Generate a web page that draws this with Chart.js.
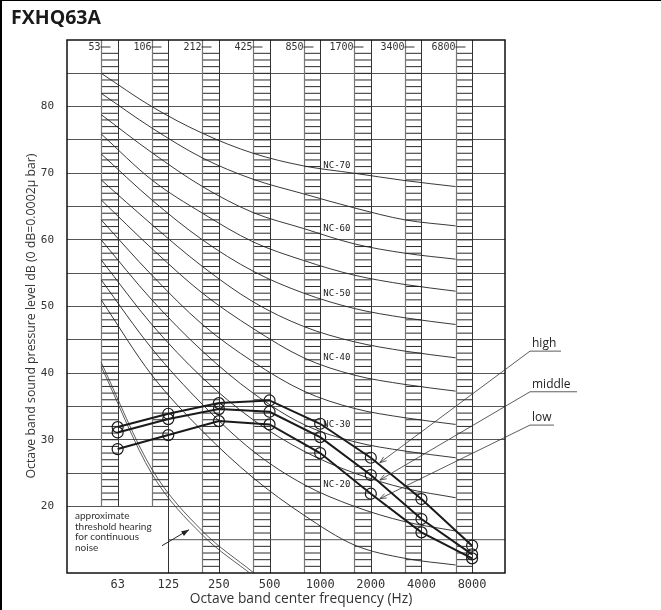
<!DOCTYPE html>
<html>
<head>
<meta charset="utf-8">
<script src="https://cdn.jsdelivr.net/npm/chart.js@4.4.1/dist/chart.umd.min.js"></script>
<style>
  html, body { margin: 0; padding: 0; background: #fff; }
  #wrap { width: 661px; height: 610px; }
</style>
</head>
<body>
<div id="wrap"><canvas id="nc" width="661" height="610"></canvas></div>
<script>
const freqLabels = ["63", "125", "250", "500", "1000", "2000", "4000", "8000"];
const bandLabels = ["53", "106", "212", "425", "850", "1700", "3400", "6800"];

// measured sound pressure levels (dB) per fan speed
const highLevel   = [31.9, 33.9, 35.5, 35.9, 32.4, 27.3, 21.1, 14.1];
const middleLevel = [31.1, 33.1, 34.6, 34.2, 30.4, 24.7, 18.1, 12.8];
const lowLevel    = [28.6, 30.7, 32.8, 32.3, 28.0, 21.9, 16.1, 12.2];

// NC curves, read at the left edge of each band
const ncNames = ["NC-70", "NC-65", "NC-60", "NC-55", "NC-50", "NC-45", "NC-40", "NC-35", "NC-30", "NC-25", "NC-20", "NC-15"];
const nc70 = [85, 80, 76, 73, 71.1, 70, 68.9, 68];
const nc65 = [82, 76.8, 72.3, 69.1, 66.9, 64.8, 63, 62.1];
const nc60 = [78.8, 73.1, 68, 64.1, 61.7, 59.4, 58, 57.1];
const nc55 = [75.9, 69, 64, 59.7, 56.9, 54.7, 53.3, 52.3];
const nc50 = [72.9, 66, 60, 55.3, 52, 49.7, 48.3, 47.3];
const nc45 = [69, 62.3, 56, 50.7, 47, 44.7, 43.3, 42.3];
const nc40 = [66, 58.7, 52, 46.7, 42.3, 39.7, 38.3, 37.3];
const nc35 = [63, 54.7, 47.3, 41.7, 37.3, 34.7, 33.3, 32.3];
const nc30 = [60, 51, 43.3, 37, 32.3, 29.7, 28.3, 27.3];
const nc25 = [57, 47.3, 39.3, 33, 28.3, 25, 22.7, 21.3];
const nc20 = [54, 43.7, 35.3, 28.3, 23.3, 20, 17.7, 16.3];
const nc15 = [51, 39.7, 31.3, 24.3, 18.7, 14.2, 12.2, 11.2];
const ncCurves = [nc70, nc65, nc60, nc55, nc50, nc45, nc40, nc35, nc30, nc25, nc20, nc15];

// approximate threshold of hearing (double line)
const thresholdOuter = [41.6, 25.6, 16.3, 10.1];
const thresholdInner = [41.0, 24.9, 15.7, 9.6];

const BAND_W = 0.325;   // ladder band width in octave units
const INK = "#1a1a1a";

Chart.defaults.font.family = "'Open Sans', sans-serif";

function seg(ctx, x1, y1, x2, y2) {
  ctx.beginPath();
  ctx.moveTo(x1, y1);
  ctx.lineTo(x2, y2);
  ctx.stroke();
}

function arrowHead(ctx, x1, y1, x2, y2, size, filled) {
  const a = Math.atan2(y2 - y1, x2 - x1);
  ctx.beginPath();
  ctx.moveTo(x2 - size * Math.cos(a - 0.35), y2 - size * Math.sin(a - 0.35));
  ctx.lineTo(x2, y2);
  ctx.lineTo(x2 - size * Math.cos(a + 0.35), y2 - size * Math.sin(a + 0.35));
  if (filled) { ctx.closePath(); ctx.fill(); } else ctx.stroke();
}

const decor = {
  id: "decor",
  beforeDatasetsDraw(chart) {
    const { ctx, chartArea: a, scales: { x, y } } = chart;
    ctx.save();

    // ladder bands
    bandLabels.forEach((lab, i) => {
      const xl = Math.round(x.getPixelForValue(i - BAND_W)) + 0.5;
      const xr = Math.round(x.getPixelForValue(i)) + 0.5;
      const bot = i < 2 ? y.getPixelForValue(20) : a.bottom;
      ctx.strokeStyle = "#2a2a2a";
      ctx.lineWidth = 1;
      for (let db = 88; db >= 11; db--) {
        const py = y.getPixelForValue(db);
        if (py >= bot - 1) break;
        seg(ctx, xl, py, xr, py);
      }
      ctx.strokeStyle = "#777";
      ctx.lineWidth = 1.2;
      seg(ctx, xl, a.top, xl, bot);
      ctx.strokeStyle = "#333";
      ctx.lineWidth = 1;
      seg(ctx, xr, a.top, xr, bot);

      ctx.fillStyle = "#333";
      ctx.font = "10px 'DejaVu Sans Mono'";
      ctx.textAlign = "right";
      ctx.textBaseline = "middle";
      ctx.fillText(lab, xl - 1, a.top + 7);
      ctx.strokeStyle = "#333";
      seg(ctx, xl - 1, a.top + 7, xl + 9, a.top + 7);
    });

    // note box edge and partial 15 dB line
    const xb = Math.round(x.getPixelForValue(1)) + 0.5;
    ctx.strokeStyle = "#333";
    ctx.lineWidth = 1;
    seg(ctx, xb, y.getPixelForValue(20), xb, a.bottom);
    ctx.strokeStyle = "#555";
    seg(ctx, xb, y.getPixelForValue(15), a.right, y.getPixelForValue(15));

    // frame
    ctx.strokeStyle = "#111";
    ctx.lineWidth = 1.5;
    ctx.strokeRect(a.left, a.top, a.right - a.left, a.bottom - a.top);
    ctx.restore();
  },
  afterDatasetsDraw(chart) {
    const { ctx, chartArea: a, scales: { x, y } } = chart;
    ctx.save();

    // NC labels (every 10)
    ctx.fillStyle = "#222";
    ctx.font = "9px 'DejaVu Sans Mono'";
    ctx.textAlign = "center";
    ctx.textBaseline = "middle";
    ncCurves.forEach((vals, j) => {
      if (j % 2) return;
      ctx.fillText(ncNames[j], x.getPixelForValue(4.33), y.getPixelForValue(vals[4]));
    });

    // threshold note
    ctx.fillStyle = "#333";
    ctx.font = "10px Lato";
    ctx.textAlign = "left";
    const noteLines = ["approximate", "threshold hearing", "for continuous", "noise"];
    noteLines.forEach((t, k) => ctx.fillText(t, a.left + 8, y.getPixelForValue(18.6) + k * 10.6));
    ctx.strokeStyle = "#222";
    ctx.fillStyle = "#222";
    ctx.lineWidth = 1;
    const ax1 = a.left + 95, ay1 = y.getPixelForValue(14.1);
    const ax2 = a.left + 122, ay2 = y.getPixelForValue(16.5);
    seg(ctx, ax1, ay1, ax2, ay2);
    arrowHead(ctx, ax1, ay1, ax2, ay2, 8, true);

    // fan speed labels with leaders
    const tags = [
      { text: "high", vals: highLevel, ly: 43.3, w: 31 },
      { text: "middle", vals: middleLevel, ly: 37.2, w: 47 },
      { text: "low", vals: lowLevel, ly: 32.2, w: 24 },
    ];
    ctx.font = "12px 'Open Sans'";
    ctx.textBaseline = "alphabetic";
    ctx.strokeStyle = "#333";
    ctx.lineWidth = 0.8;
    tags.forEach((t) => {
      const ux = a.right + 25, uy = y.getPixelForValue(t.ly);
      ctx.fillStyle = "#222";
      ctx.fillText(t.text, ux + 2, uy - 4);
      seg(ctx, ux, uy, ux + t.w, uy);
      const px = x.getPixelForValue(5) + 9, py = y.getPixelForValue(t.vals[5]) + 5;
      seg(ctx, ux, uy, px, py);
      arrowHead(ctx, ux, uy, px, py, 7, false);
    });

    // axis titles
    ctx.fillStyle = "#333";
    ctx.textAlign = "center";
    ctx.textBaseline = "middle";
    ctx.font = "13.8px 'Open Sans'";
    ctx.fillText("Octave band center frequency (Hz)", 301, 599);
    ctx.font = "12.3px 'Open Sans'";
    ctx.translate(31, 316);
    ctx.rotate(-Math.PI / 2);
    ctx.fillText("Octave band sound pressure level dB (0 dB=0.0002\u00b5 bar)", 0, 0);
    ctx.restore();

    // chart title and page border
    ctx.save();
    ctx.fillStyle = INK;
    ctx.font = "bold 19.5px 'Open Sans'";
    ctx.textAlign = "left";
    ctx.textBaseline = "alphabetic";
    ctx.fillText("FXHQ63A", 11, 24);
    ctx.fillStyle = "#000";
    ctx.fillRect(0, 0, 661, 1);
    ctx.fillRect(0, 0, 2, 610);
    ctx.restore();
  },
};

const levelSet = (label, vals) => ({
  label,
  data: vals.map((v, i) => ({ x: i, y: v })),
  borderColor: INK,
  borderWidth: 2,
  pointRadius: 5.5,
  pointBorderWidth: 1.2,
  pointBorderColor: INK,
  pointBackgroundColor: "rgba(0,0,0,0)",
  tension: 0,
});

const ncSets = ncCurves.map((vals, j) => ({
  label: ncNames[j],
  data: vals.map((v, i) => ({ x: i - BAND_W, y: v })),
  borderColor: "#222",
  borderWidth: 0.9,
  pointRadius: 0,
  cubicInterpolationMode: "monotone",
}));

const thrSets = [thresholdOuter, thresholdInner].map((vals, j) => ({
  label: "threshold " + j,
  data: vals.map((v, i) => ({ x: i - BAND_W, y: v })),
  borderColor: "#333",
  borderWidth: 0.8,
  pointRadius: 0,
  cubicInterpolationMode: "monotone",
}));

new Chart(document.getElementById("nc"), {
  type: "line",
  data: {
    datasets: [
      levelSet("high", highLevel),
      levelSet("middle", middleLevel),
      levelSet("low", lowLevel),
      ...ncSets,
      ...thrSets,
    ],
  },
  options: {
    responsive: false,
    animation: false,
    devicePixelRatio: 1,
    layout: { padding: { top: 40, right: 156, bottom: 0, left: 0 } },
    plugins: { legend: { display: false }, tooltip: { enabled: false } },
    scales: {
      x: {
        type: "linear",
        min: -1,
        max: 7.65,
        afterFit: (s) => { s.height = 37; },
        afterBuildTicks: (s) => { s.ticks = freqLabels.map((_, i) => ({ value: i })); },
        ticks: {
          padding: 5,
          color: "#333",
          font: { family: "'DejaVu Sans Mono'", size: 12 },
          callback: (v) => freqLabels[v] ?? "",
          maxRotation: 0,
          autoSkip: false,
        },
        grid: { display: false, drawTicks: false },
        border: { display: false },
      },
      y: {
        min: 10,
        max: 90,
        afterFit: (s) => { s.width = 67; },
        ticks: {
          stepSize: 5,
          padding: 13,
          color: "#333",
          font: { family: "'DejaVu Sans Mono'", size: 11 },
          callback: (v) => (v % 10 === 0 && v >= 20 && v <= 80 ? v : ""),
        },
        grid: {
          drawTicks: false,
          lineWidth: 1,
          color: (c) => ([10, 15, 90].includes(c.tick.value) ? "rgba(0,0,0,0)" : "#555"),
        },
        border: { display: false },
      },
    },
  },
  plugins: [decor],
});
</script>
</body>
</html>
